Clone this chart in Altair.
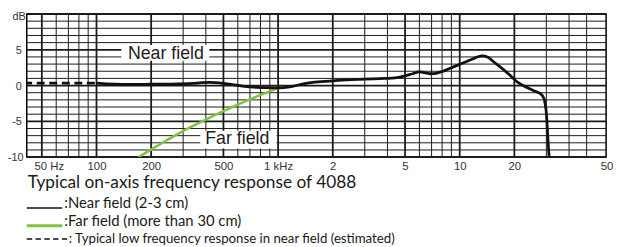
import altair as alt
import pandas as pd

# ---- data ----
near_freq = [100, 150, 200, 280, 360, 420, 524, 673, 850, 980, 1200, 1425, 1550, 2000, 2350, 3000,
             3900, 4400, 5000, 5500, 6000, 6400, 6950, 7500, 8200, 9000, 10100, 11500, 13300, 14200,
             15300, 17300, 19000, 20500, 22000, 24300, 26000, 27500, 28500, 29300, 29900, 31100, 31500]
near_db = [0.35, 0.15, 0.2, 0.25, 0.35, 0.45, 0.23, -0.14, -0.3, -0.32, -0.1, 0.32, 0.45, 0.65, 0.8, 0.9,
           1.0, 1.06, 1.35, 1.65, 1.9, 1.8, 1.65, 1.75, 2.05, 2.5, 3.0, 3.6, 4.14, 4.0,
           3.36, 2.3, 1.4, 0.6, 0.1, -0.46, -0.8, -1.06, -1.4, -2.07, -3.45, -10, -11]

far_freq = [170, 192, 240, 292, 400, 503, 673, 850, 1000]
far_db = [-10, -9.2, -7.75, -6.5, -4.76, -3.55, -2.1, -1.05, -0.34]

est_freq = [40, 100]
est_db = [0.35, 0.35]

grid_freq = [50, 60, 70, 80, 90,
             100, 200, 300, 400, 500, 600, 700, 800, 900,
             1000, 2000, 3000, 4000, 5000, 6000, 7000, 8000, 9000,
             10000, 20000, 30000, 40000, 50000]
grid_major_freq = [50, 100, 200, 500, 1000, 2000, 5000, 10000, 20000]
grid_db = list(range(-10, 11))
grid_major_db = [-10, -5, 0, 5, 10]

tick_freq = [50, 100, 200, 500, 1000, 2000, 5000, 10000, 20000, 64000]
tick_labels = ["50 Hz", "100", "200", "500", "1 kHz", "2", "5", "10", "20", "50"]
db_ticks = [-10, -5, 0, 5, 10]
db_labels = ["-10", "-5", "0", "5", "dB"]

annot_text = ["Near field", "Far field"]
annot_freq = [241, 596]
annot_db = [3.68, -8.18]
box_f1 = [137, 373]
box_f2 = [418, 980]
box_db1 = [3.45, -6.3]
box_db2 = [5.66, -8.8]

title_text = "Typical on-axis frequency response of 4088"
legend_labels = [":Near field (2-3 cm)", ":Far field (more than 30 cm)",
                 ": Typical low frequency response in near field (estimated)"]
legend_colors = ["#111111", "#80c342", "#111111"]

# ---- tables ----
near_df = pd.DataFrame({"f": near_freq, "db": near_db})
far_df = pd.DataFrame({"f": far_freq, "db": far_db})
est_df = pd.DataFrame({"f": est_freq, "db": est_db})
vgrid_df = pd.DataFrame({"f": grid_freq,
                         "w": [1.8 if v in grid_major_freq else 1.0 for v in grid_freq]})
hgrid_df = pd.DataFrame({"db": grid_db,
                         "w": [1.8 if v in grid_major_db else 1.0 for v in grid_db]})
annot_df = pd.DataFrame({"t": annot_text, "f": annot_freq, "db": annot_db})
box_df = pd.DataFrame({"f": box_f1, "f2": box_f2, "db": box_db1, "db2": box_db2})

xexpr = " : ".join(f"datum.value == {v} ? '{l}'" for v, l in zip(tick_freq, tick_labels)) + " : ''"
yexpr = " : ".join(f"datum.value == {v} ? '{l}'" for v, l in zip(db_ticks, db_labels)) + " : ''"

xscale = alt.Scale(type="log", domain=[41.3, 64000])
yscale = alt.Scale(domain=[-10, 10])
xaxis = alt.Axis(values=tick_freq, labelExpr=xexpr, title=None, grid=False, ticks=False, domain=False,
                 labelFont="Liberation Sans", labelFontSize=11.5, labelColor="#333333",
                 labelPadding=4, labelFlush=False,
                 labelOffset={"condition": [{"test": "datum.value == 50", "value": 7},
                                            {"test": "datum.value == 64000", "value": 0.5}],
                              "value": 0})
yaxis = alt.Axis(values=db_ticks, labelExpr=yexpr, title=None, grid=False, ticks=False, domain=False,
                 labelFont="Liberation Sans", labelFontSize=11, labelColor="#333333",
                 labelPadding={"condition": [{"test": "datum.value == 10", "value": 1.5},
                                             {"test": "datum.value == -10", "value": 3.8}],
                               "value": 5.5},
                 labelOffset={"condition": {"test": "datum.value == 10", "value": 2.5}, "value": 0.5})


def X(field="f"):
    return alt.X(f"{field}:Q", scale=xscale, axis=xaxis)


def Y(field="db"):
    return alt.Y(f"{field}:Q", scale=yscale, axis=yaxis)


vgrid = alt.Chart(vgrid_df).mark_rule(color="#1a1a1a").encode(
    x=X(), strokeWidth=alt.StrokeWidth("w:Q", scale=None, legend=None))
hgrid = alt.Chart(hgrid_df).mark_rule(color="#1a1a1a").encode(
    y=Y(), strokeWidth=alt.StrokeWidth("w:Q", scale=None, legend=None))

boxes = alt.Chart(box_df).mark_rect(color="white").encode(
    x=X(), x2="f2:Q", y=Y(), y2="db2:Q")

far_line = alt.Chart(far_df).mark_line(color="#80c342", strokeWidth=2.6, interpolate="monotone",
                                       clip=True).encode(x=X(), y=Y())
near_line = alt.Chart(near_df).mark_line(color="#111111", strokeWidth=2.8, interpolate="monotone",
                                         clip=True).encode(x=X(), y=Y())
est_line = alt.Chart(est_df).mark_line(color="#111111", strokeWidth=2.8, strokeDash=[8, 4.7],
                                       clip=True).encode(x=X(), y=Y())

annots = alt.Chart(annot_df).mark_text(font="Liberation Sans", fontSize=18, color="#1a1a1a",
                                       align="center", baseline="alphabetic").encode(
    x=X(), y=Y(), text="t:N")

layers = [vgrid, hgrid, boxes, far_line, near_line, est_line, annots]

# title under the plot
title_df = pd.DataFrame({"t": [title_text]})
layers.append(alt.Chart(title_df).mark_text(font="Lato", fontSize=17.5, color="#1a1a1a", align="left",
                                            baseline="alphabetic").encode(
    x=alt.value(1), y=alt.value(176.5), text="t:N"))

# legend
line_y = [196.5, 214.5, 228]
text_y = [197, 214.5, 232]
text_x = [38, 38, 42.5]
text_size = [15, 15, 13.4]
line_x2 = [36, 36, 41]
line_w = [1.6, 3, 1.6]
for i, lab in enumerate(legend_labels):
    df = pd.DataFrame({"t": [lab]})
    kw = dict(color=legend_colors[i], strokeWidth=line_w[i])
    if i == 2:
        kw["strokeDash"] = [5.5, 3.4]
    layers.append(alt.Chart(df).mark_rule(**kw).encode(
        x=alt.value(0), x2=alt.value(line_x2[i]), y=alt.value(line_y[i])))
    layers.append(alt.Chart(df).mark_text(font="Lato", fontSize=text_size[i], color="#1a1a1a",
                                          align="left", baseline="alphabetic").encode(
        x=alt.value(text_x[i]), y=alt.value(text_y[i]), text="t:N"))

chart = alt.layer(*layers).properties(
    width=587, height=145,
    autosize=alt.AutoSizeParams(type="none"),
    padding={"left": 19, "top": 4.5, "right": 8, "bottom": 89.5},
    background="white",
).configure_view(stroke="black", strokeWidth=1.5)

chart.save("out.html", embed_options={"renderer": "svg", "actions": False})
